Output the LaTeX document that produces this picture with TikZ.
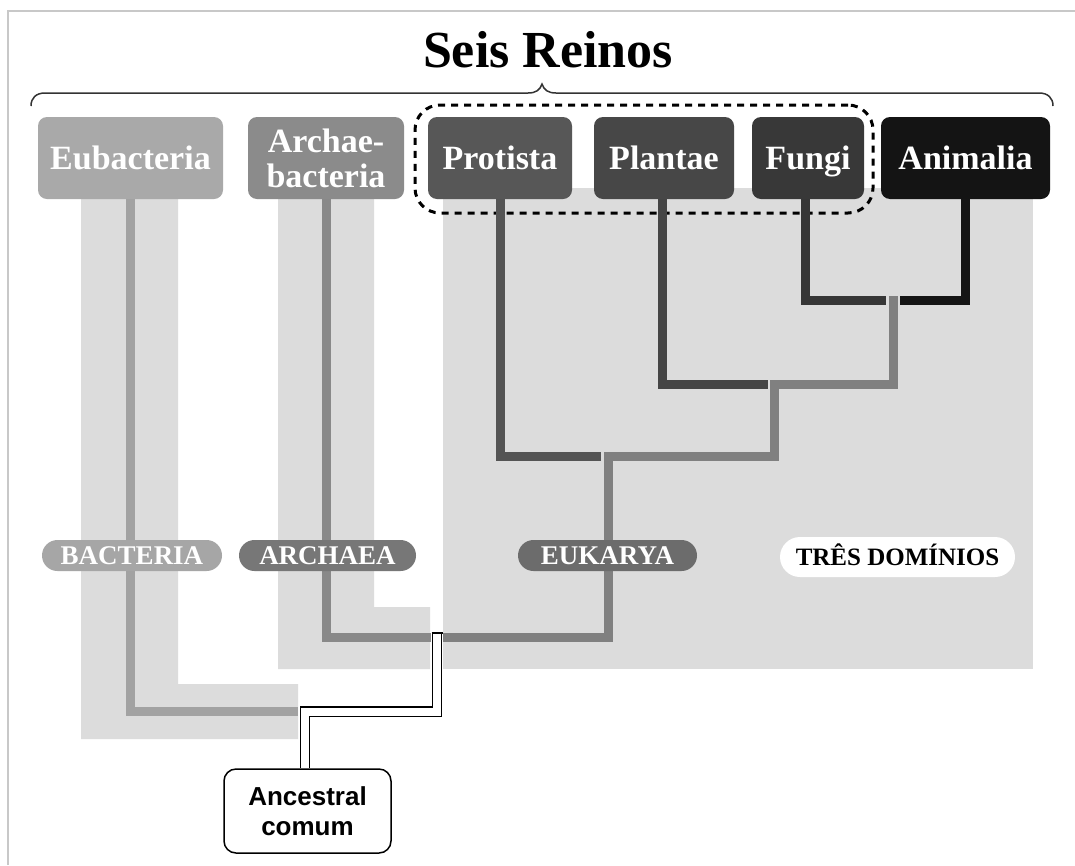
\documentclass[tikz,border=0pt]{standalone}
\usepackage{fontspec}
\setmainfont{Liberation Serif}
\setsansfont{Liberation Sans}
\definecolor{bandgray}{HTML}{DCDCDC}
\definecolor{eubbox}{HTML}{A9A9A9}
\definecolor{eubline}{HTML}{A2A2A2}
\definecolor{eubpill}{HTML}{A6A6A6}
\definecolor{arcbox}{HTML}{8B8B8B}
\definecolor{arcline}{HTML}{898989}
\definecolor{arcpill}{HTML}{777777}
\definecolor{probox}{HTML}{575757}
\definecolor{proline}{HTML}{545454}
\definecolor{plabox}{HTML}{474747}
\definecolor{plaline}{HTML}{454545}
\definecolor{funbox}{HTML}{383838}
\definecolor{funline}{HTML}{363636}
\definecolor{anibox}{HTML}{141414}
\definecolor{aniline}{HTML}{151515}
\definecolor{eukline}{HTML}{808080}
\definecolor{eukpill}{HTML}{6C6C6C}
\definecolor{framegray}{HTML}{C8C8C8}
\tikzset{
  kingdom/.style={rounded corners=9pt, inner sep=0pt, text=white, minimum height=82pt,
    font=\bfseries\fontsize{34}{35}\selectfont, align=center},
  onelinetext/.style={text height=23pt, text depth=0pt},
  domainpill/.style={rounded corners=15.5pt, inner sep=0pt, minimum height=31pt, text=white,
    font=\bfseries\fontsize{27}{27}\selectfont, text height=18pt, text depth=0pt},
  branch/.style={line width=9pt, line join=miter},
  band/.style={fill=bandgray, draw=none},
}
\begin{document}
\begin{tikzpicture}[x=1pt, y=-1pt]
\useasboundingbox (0,0) rectangle (1075,865);
\fill[white] (0,0) rectangle (1075,865);
% frame
\draw[framegray, line width=1.2pt] (8,865) -- (8,11) -- (1075,11);

% background bands
\fill[band] (81,199) -- (178,199) -- (178,684) -- (298,684) -- (298,739) -- (81,739) -- cycle;
\fill[band] (278,199) -- (374,199) -- (374,607) -- (430,607) -- (430,669) -- (278,669) -- cycle;
\fill[band] (443,188) rectangle (1033,669);

% title and brace
\node[anchor=base, inner sep=0pt, font=\bfseries\fontsize{52}{52}\selectfont] (title) at (548,67) {Seis Reinos};
\draw[black!80, line width=1.5pt] (31,106) .. controls (31,98) and (36,93) .. (45,93) -- (528,93)
   .. controls (536,93) and (540,90) .. (542,84) .. controls (544,90) and (548,93) .. (556,93)
   -- (1039,93) .. controls (1048,93) and (1053,98) .. (1053,106);

% kingdom boxes
\node[kingdom, onelinetext, fill=eubbox, minimum width=185pt] (eub) at (130.5,158) {Eubacteria};
\node[kingdom, fill=arcbox, minimum width=156pt] (arc) at (326,158) {Archae-\\bacteria};
\node[kingdom, onelinetext, fill=probox, minimum width=144pt] (pro) at (500,158) {Protista};
\node[kingdom, onelinetext, fill=plabox, minimum width=140pt] (pla) at (664,158) {Plantae};
\node[kingdom, onelinetext, fill=funbox, minimum width=112pt] (fun) at (808,158) {Fungi};
\node[kingdom, onelinetext, fill=anibox, minimum width=169pt] (ani) at (965.5,158) {Animalia};

% dashed group
\node[draw=black, line width=3pt, dash pattern=on 7pt off 6pt, rounded corners=25pt,
      minimum width=458pt, minimum height=108pt, inner sep=0pt] (group) at (644,159) {};

% junction coordinates
\coordinate (jbac) at (298,711);
\coordinate (jarc) at (431,637);
\coordinate (eA) at (443,637);
\coordinate (n1) at (608,456);
\coordinate (n2) at (774,384);
\coordinate (n3) at (893,296);
\coordinate (pEnd) at (601,456);
\coordinate (lEnd) at (768,384);
\coordinate (fEnd) at (886,300);
\coordinate (aEnd) at (900,300);
\coordinate (root) at (437,633);

% branches
\draw[branch, eubline] (eub.south) |- (jbac);
\draw[branch, arcline] (arc.south) |- (jarc);
\draw[branch, eukline] (eA) -| (n1) -| (n2) -| (n3);
\draw[branch, proline] (pro.south) |- (pEnd);
\draw[branch, plaline] ([xshift=-2pt]pla.south) |- (lEnd);
\draw[branch, funline] ([xshift=-3pt]fun.south) |- (fEnd);
\draw[branch, aniline] (ani.south) |- (aEnd);

% domain pills
\node[domainpill, fill=eubpill, minimum width=180pt] (bacteria) at (132,555.5) {BACTERIA};
\node[domainpill, fill=arcpill, minimum width=177pt] (archaea) at (327.5,555.5) {ARCHAEA};
\node[domainpill, fill=eukpill, minimum width=179pt] (eukarya) at (607.5,555.5) {EUKARYA};
\node[fill=white, rounded corners=20pt, inner sep=0pt, minimum width=235pt, minimum height=40pt,
      font=\bfseries\fontsize{25}{25}\selectfont, text height=17pt, text depth=0pt] (tres) at (897.5,557) {TRÊS DOMÍNIOS};

% common ancestor
\node[draw=black, line width=1.5pt, fill=white, rounded corners=12pt, minimum width=167pt,
      minimum height=84pt, inner sep=0pt, align=center,
      font=\sffamily\bfseries\fontsize{26}{30}\selectfont] (anc) at (307.5,811) {Ancestral\\comum};
\draw[line width=1.4pt, double=white, double distance=8pt, line join=miter]
   (root) -- ++(0,78.5) -| ([xshift=-2.5pt]anc.north);
\draw[line width=1.4pt] ([xshift=-5.5pt]root) -- ([xshift=5.5pt]root);
\end{tikzpicture}
\end{document}
